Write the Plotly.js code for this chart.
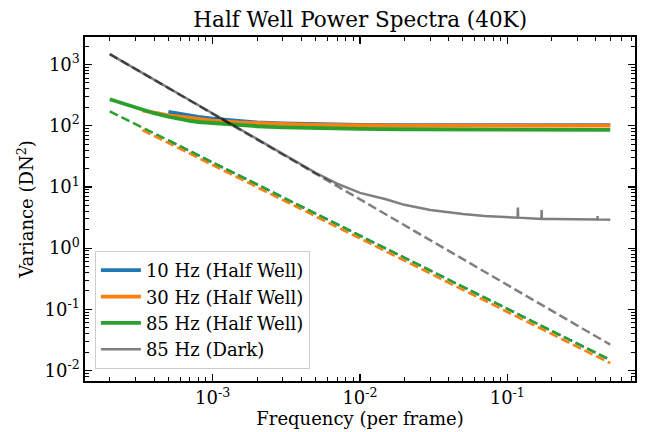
<!DOCTYPE html>
<html>
<head>
<meta charset="utf-8">
<script src="https://cdn.plot.ly/plotly-3.0.1.min.js"></script>
<style>html,body{margin:0;padding:0;background:#fff;}#chart{width:649px;height:432px;}</style>
</head>
<body>
<div id="chart"></div>
<script>
// ---- data ----
const freq10 = [5e-4, 6e-4, 7e-4, 8e-4, 1e-3, 1.5e-3, 2e-3, 3e-3, 5e-3, 7e-3, 1e-2, 2e-2, 5e-2, 0.1, 0.2, 0.5];
const var10  = [168, 155, 146, 139, 130, 119, 113, 109, 106, 104, 103, 102, 102, 102, 102, 102];

const freq30 = [3.33e-4, 4e-4, 5e-4, 6e-4, 7e-4, 8e-4, 1e-3, 1.5e-3, 2e-3, 3e-3, 5e-3, 7e-3, 1e-2, 2e-2, 5e-2, 0.1, 0.2, 0.5];
const var30  = [178, 162, 148, 140, 133, 128, 121, 113, 109, 107, 103.5, 102, 101, 100.5, 100, 100, 100, 100];

const freq85 = [2e-4, 2.5e-4, 3e-4, 3.5e-4, 4e-4, 5e-4, 6e-4, 7e-4, 8e-4, 1e-3, 1.5e-3, 2e-3, 3e-3, 5e-3, 7e-3, 1e-2, 2e-2, 5e-2, 0.1, 0.2, 0.5];
const var85  = [270, 228, 198, 178, 160, 140, 127, 120, 115, 110, 103, 98, 94, 91, 89.5, 88.5, 87.5, 86.5, 86, 86, 85.5];

const freqDark = [2e-4, 3e-4, 5e-4, 7e-4, 1e-3, 1.5e-3, 2e-3, 3e-3, 5e-3, 7e-3, 1e-2, 1.5e-2, 2e-2, 3e-2, 5e-2, 7e-2, 0.1, 0.1175, 0.118, 0.1185, 0.15, 0.1705, 0.171, 0.1715, 0.2, 0.3, 0.4, 0.4095, 0.41, 0.4105, 0.5];
const varDark  = [1480, 842, 413, 258, 157, 89.5, 60.5, 34.5, 17, 11.3, 8.0, 6.3, 5.1, 4.2, 3.6, 3.35, 3.2, 3.15, 4.6, 3.15, 3.05, 3.0, 4.2, 3.0, 3.0, 2.95, 2.95, 2.95, 3.35, 2.95, 2.9];

// power-law fits (straight lines in log-log): end points
const fitFreq10 = [5e-4, 0.5];      const fitVar10 = [57.5, 0.0149];
const fitFreq30 = [3.33e-4, 0.5];   const fitVar30 = [85, 0.0132];
const fitFreq85 = [2e-4, 0.5];      const fitVar85 = [172, 0.0149];
const fitFreqDark = [2e-4, 0.5];    const fitVarDark = [1480, 0.0265];

const labels = ["10 Hz (Half Well)", "30 Hz (Half Well)", "85 Hz (Half Well)", "85 Hz (Dark)"];
const colors = ["#1f77b4", "#ff7f0e", "#2ca02c", "rgba(0,0,0,0.5)"];

const xTickVals = [1e-3, 1e-2, 1e-1];
const xTickText = ["10<sup>-3</sup>", "10<sup>-2</sup>", "10<sup>-1</sup>"];
const yTickVals = [1e-2, 1e-1, 1, 10, 100, 1000];
const yTickText = ["10<sup>-2</sup>", "10<sup>-1</sup>", "10<sup>0</sup>", "10<sup>1</sup>", "10<sup>2</sup>", "10<sup>3</sup>"];

function minorTicks(lo, hi) {
  const out = [];
  for (let k = lo; k <= hi; k++) for (let m = 2; m <= 9; m++) out.push(m * Math.pow(10, k));
  return out;
}

const DASH = "9px,4px";
function solid(x, y, i, w) {
  return {x: x, y: y, type: "scatter", mode: "lines", name: labels[i],
          line: {color: colors[i], width: w}, showlegend: true};
}
function dashed(x, y, i) {
  return {x: x, y: y, type: "scatter", mode: "lines", name: labels[i] + " fit",
          line: {color: colors[i], width: 2.5, dash: DASH}, showlegend: false, hoverinfo: "skip"};
}

const data = [
  solid(freq10, var10, 0, 3.8), dashed(fitFreq10, fitVar10, 0),
  solid(freq30, var30, 1, 3.8), dashed(fitFreq30, fitVar30, 1),
  solid(freq85, var85, 2, 3.8), dashed(fitFreq85, fitVar85, 2),
  solid(freqDark, varDark, 3, 2.5), dashed(fitFreqDark, fitVarDark, 3)
];

const FONT = "DejaVu Serif";
const axisCommon = {
  type: "log", showgrid: false, zeroline: false,
  showline: true, linecolor: "#000", linewidth: 1.6, mirror: "allticks",
  ticks: "inside", ticklen: 7, tickwidth: 1.3, tickcolor: "#000",
  tickfont: {family: FONT, size: 18, color: "#000"}
};

const layout = {
  width: 649, height: 432,
  paper_bgcolor: "#fff", plot_bgcolor: "#fff",
  margin: {l: 85, r: 14, t: 37, b: 51},
  font: {family: FONT, color: "#000"},
  title: {text: "Half Well Power Spectra (40K)", font: {family: FONT, size: 21.5, color: "#000"},
          x: 0.555, xanchor: "center", y: 0.955, yanchor: "middle"},
  xaxis: Object.assign({}, axisCommon, {
    range: [-3.867, -0.133],
    tickmode: "array", tickvals: xTickVals, ticktext: xTickText,
    minor: {tickmode: "array", tickvals: minorTicks(-4, -1), ticks: "inside", ticklen: 4, tickwidth: 1, tickcolor: "#000"},
    title: {text: "Frequency (per frame)", font: {family: FONT, size: 18, color: "#000"}, standoff: 5}
  }),
  yaxis: Object.assign({}, axisCommon, {
    range: [-2.17, 3.449],
    tickmode: "array", tickvals: yTickVals, ticktext: yTickText,
    minor: {tickmode: "array", tickvals: minorTicks(-3, 3), ticks: "inside", ticklen: 4, tickwidth: 1, tickcolor: "#000"},
    title: {text: "Variance (DN<sup>2</sup>)", font: {family: FONT, size: 18, color: "#000"}, standoff: 6}
  }),
  legend: {
    x: 0.018, y: 0.035, xanchor: "left", yanchor: "bottom",
    bgcolor: "rgba(255,255,255,0.8)", bordercolor: "#cccccc", borderwidth: 1,
    font: {family: FONT, size: 18, color: "#000"},
    tracegroupgap: 0, itemwidth: 40
  },
  showlegend: true
};

Plotly.newPlot("chart", data, layout, {displayModeBar: false, staticPlot: true});
</script>
</body>
</html>
